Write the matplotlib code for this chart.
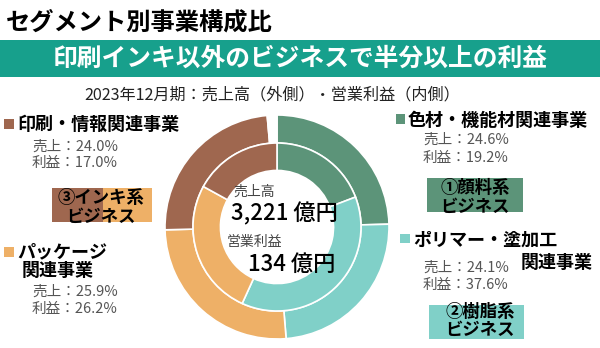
import matplotlib
matplotlib.use("Agg")
import matplotlib.pyplot as plt
from matplotlib.patches import Rectangle

plt.rcParams['font.family'] = ['Noto Sans CJK JP', 'DejaVu Sans']

# ---- data ----
segments = ["色材・機能材関連事業", "ポリマー・塗加工関連事業", "パッケージ関連事業", "印刷・情報関連事業"]
sales_share = [24.6, 24.1, 25.9, 24.0]     # outer ring (売上高)
profit_share = [19.2, 37.6, 26.2, 17.0]    # inner ring (営業利益)
colors = ["#5c9479", "#80d0c8", "#eeb067", "#9f674f"]
total_sales = "3,221"
total_profit = "134"

W, H = 600, 348
fig = plt.figure(figsize=(6, 3.48), dpi=100)
fig.patch.set_facecolor("white")

def fx(x):
    return x / W

def fy(y):
    return 1 - y / H

def T(x, y, s, size, ha="left", color="black", weight="normal", **kw):
    fig.text(fx(x), fy(y), s, fontsize=size, ha=ha, va="center",
             color=color, fontweight=weight, **kw)

def R(x0, y0, x1, y1, color, z=1):
    fig.patches.append(Rectangle((fx(x0), fy(y1)), (x1 - x0) / W, (y1 - y0) / H,
                                 transform=fig.transFigure, facecolor=color,
                                 edgecolor="none", zorder=z))

# ---- header ----
T(6, 23, "セグメント別事業構成比", 17.5, weight="bold")
R(0, 40, 600, 77, "#17a08c", z=0)
T(300, 58.5, "印刷インキ以外のビジネスで半分以上の利益", 17.8, ha="center",
  color="white", weight="bold")
T(272, 95, "2023年12月期：売上高（外側）・営業利益（内側）", 11.6, ha="center", color="#222222")

# ---- donut ----
cx, cy, r = 277, 227, 112
ax = fig.add_axes([fx(cx - r), 1 - (cy + r) / H, 2 * r / W, 2 * r / H])
ax.set_aspect("equal")
other = 100 - sum(sales_share)
ax.pie(sales_share + [other], colors=colors + ["white"], radius=1.0,
       startangle=90, counterclock=False,
       wedgeprops=dict(width=0.25, edgecolor="white", linewidth=1.2))
ax.pie(profit_share, colors=colors, radius=0.75,
       startangle=90, counterclock=False,
       wedgeprops=dict(width=0.245, edgecolor="white", linewidth=1.2))
ax.set_xlim(-1, 1)
ax.set_ylim(-1, 1)
ax.axis("off")

T(233, 192, "売上高", 10, color="#444444")
T(231, 214, f"{total_sales} 億円", 16, color="black", weight="medium")
T(227, 242, "営業利益", 10, color="#444444")
T(248, 264, f"{total_profit} 億円", 16, color="black", weight="medium")

# ---- left labels ----
R(4, 119, 14, 129, colors[3])
T(17, 124.5, segments[3], 13, weight="bold")
T(32, 147, f"売上：{sales_share[3]:.1f}%", 10.5, color="#555555")
T(32, 163, f"利益：{profit_share[3]:.1f}%", 10.5, color="#555555")

R(52, 188, 103, 222, colors[3])
R(103, 188, 152, 222, colors[2])
T(101, 198, "③インキ系", 12.5, ha="center", weight="bold")
T(101, 217, "ビジネス", 12.5, ha="center", weight="bold")

R(4, 247, 14, 257, colors[2])
T(17, 252, "パッケージ", 13, weight="bold")
T(22, 270, "関連事業", 13, weight="bold")
T(32, 292, f"売上：{sales_share[2]:.1f}%", 10.5, color="#555555")
T(32, 309, f"利益：{profit_share[2]:.1f}%", 10.5, color="#555555")

# ---- right labels ----
R(396, 114, 405, 124, colors[0])
T(408, 120, segments[0], 13, weight="bold")
T(423, 140, f"売上：{sales_share[0]:.1f}%", 10.5, color="#555555")
T(423, 158, f"利益：{profit_share[0]:.1f}%", 10.5, color="#555555")

R(427, 178, 523, 212, colors[0])
T(475, 188, "①顔料系", 12.5, ha="center", weight="bold")
T(475, 207, "ビジネス", 12.5, ha="center", weight="bold")

R(400, 234, 410, 243, colors[1])
T(413, 240, "ポリマー・塗加工", 13, weight="bold")
T(593, 262, "関連事業", 13, ha="right", weight="bold")
T(423, 268, f"売上：{sales_share[1]:.1f}%", 10.5, color="#555555")
T(423, 285, f"利益：{profit_share[1]:.1f}%", 10.5, color="#555555")

R(429, 305, 524, 339, colors[1])
T(480, 312, "②樹脂系", 12.5, ha="center", weight="bold")
T(480, 330, "ビジネス", 12.5, ha="center", weight="bold")

fig.savefig("out.png", dpi=100)
